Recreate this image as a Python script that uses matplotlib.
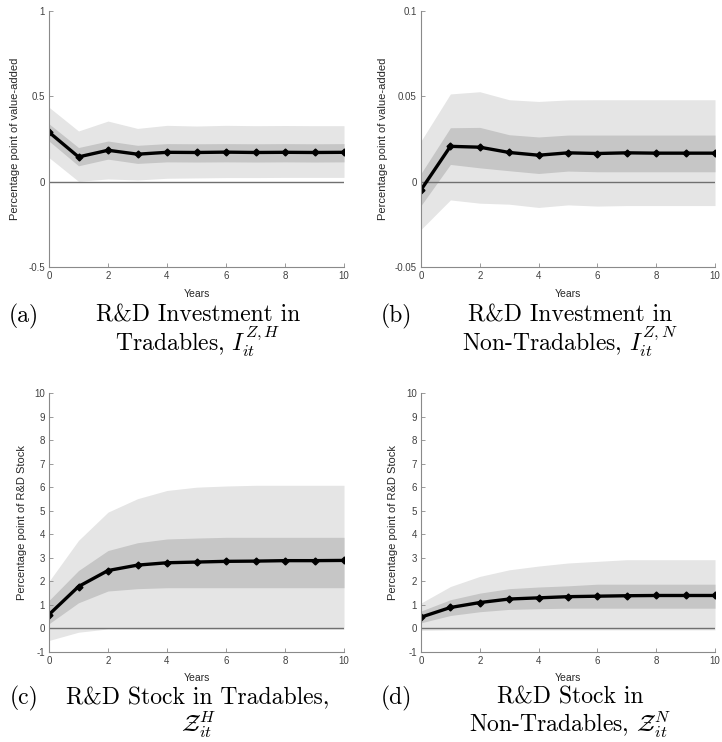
import numpy as np
import matplotlib
matplotlib.use("Agg")
import matplotlib.pyplot as plt

# =========================
# Data
# =========================
years = np.arange(0, 11)

# (a) R&D investment in tradables
inv_h = [0.29, 0.145, 0.184, 0.161, 0.172, 0.171, 0.173, 0.171, 0.172, 0.171, 0.172]
inv_h_68_lo = [0.238, 0.093, 0.132, 0.107, 0.116, 0.115, 0.116, 0.115, 0.116, 0.115, 0.116]
inv_h_68_hi = [0.339, 0.200, 0.238, 0.213, 0.223, 0.222, 0.223, 0.222, 0.223, 0.222, 0.223]
inv_h_90_lo = [0.141, 0.002, 0.016, 0.010, 0.020, 0.022, 0.024, 0.024, 0.025, 0.025, 0.025]
inv_h_90_hi = [0.436, 0.297, 0.355, 0.312, 0.330, 0.326, 0.330, 0.328, 0.329, 0.328, 0.328]

# (b) R&D investment in non-tradables
inv_n = [-0.0048, 0.0207, 0.0202, 0.0171, 0.0155, 0.0169, 0.0165, 0.0169, 0.0167, 0.0167, 0.0167]
inv_n_68_lo = [-0.014, 0.0101, 0.0081, 0.0064, 0.0048, 0.0062, 0.0058, 0.0058, 0.0058, 0.0058, 0.0058]
inv_n_68_hi = [0.0048, 0.0316, 0.0318, 0.0275, 0.0262, 0.0273, 0.0273, 0.0273, 0.0273, 0.0273, 0.0273]
inv_n_90_lo = [-0.028, -0.0107, -0.0126, -0.0132, -0.0151, -0.0136, -0.0143, -0.014, -0.014, -0.014, -0.014]
inv_n_90_hi = [0.0238, 0.0514, 0.0527, 0.048, 0.047, 0.0479, 0.048, 0.048, 0.048, 0.048, 0.048]

# (c) R&D stock in tradables
stk_h = [0.59, 1.78, 2.46, 2.69, 2.79, 2.82, 2.85, 2.86, 2.88, 2.88, 2.89]
stk_h_68_lo = [0.20, 1.09, 1.59, 1.69, 1.73, 1.73, 1.73, 1.73, 1.73, 1.73, 1.73]
stk_h_68_hi = [1.19, 2.46, 3.31, 3.64, 3.80, 3.84, 3.87, 3.87, 3.87, 3.87, 3.87]
stk_h_90_lo = [-0.51, -0.16, -0.02, -0.03, -0.03, -0.03, -0.03, -0.03, -0.03, -0.03, -0.03]
stk_h_90_hi = [2.0, 3.74, 4.94, 5.51, 5.86, 6.0, 6.05, 6.08, 6.08, 6.08, 6.08]

# (d) R&D stock in non-tradables
stk_n = [0.48, 0.89, 1.10, 1.25, 1.30, 1.35, 1.37, 1.39, 1.40, 1.40, 1.40]
stk_n_68_lo = [0.24, 0.55, 0.71, 0.81, 0.84, 0.86, 0.86, 0.86, 0.86, 0.86, 0.86]
stk_n_68_hi = [0.74, 1.22, 1.50, 1.69, 1.76, 1.81, 1.88, 1.88, 1.88, 1.88, 1.88]
stk_n_90_lo = [-0.08, -0.06, -0.06, -0.06, -0.06, -0.06, -0.06, -0.06, -0.06, -0.06, -0.06]
stk_n_90_hi = [1.08, 1.78, 2.21, 2.49, 2.65, 2.78, 2.85, 2.92, 2.92, 2.92, 2.92]

# =========================
# Style
# =========================
plt.rcParams["font.family"] = ["Liberation Sans", "DejaVu Sans"]
plt.rcParams["mathtext.fontset"] = "cm"
plt.rcParams["axes.unicode_minus"] = False

W, H = 722, 742
fig = plt.figure(figsize=(W / 100, H / 100), dpi=100)


def px_axes(left, top, right, bottom):
    return fig.add_axes([left / W, 1 - bottom / H, (right - left) / W, (bottom - top) / H])


panels = [
    dict(box=(49, 11, 344, 267), y=inv_h, lo68=inv_h_68_lo, hi68=inv_h_68_hi, lo90=inv_h_90_lo, hi90=inv_h_90_hi,
         ylim=(-0.5, 1), yticks=[-0.5, 0, 0.5, 1], ylabel="Percentage point of value-added", ylx=-0.098, xly=-0.084),
    dict(box=(421, 11, 715, 267), y=inv_n, lo68=inv_n_68_lo, hi68=inv_n_68_hi, lo90=inv_n_90_lo, hi90=inv_n_90_hi,
         ylim=(-0.05, 0.1), yticks=[-0.05, 0, 0.05, 0.1], ylabel="Percentage point of value-added", ylx=-0.112, xly=-0.084),
    dict(box=(49, 393, 344, 652), y=stk_h, lo68=stk_h_68_lo, hi68=stk_h_68_hi, lo90=stk_h_90_lo, hi90=stk_h_90_hi,
         ylim=(-1, 10), yticks=list(range(-1, 11)), ylabel="Percentage point of R&D Stock", ylx=-0.075, xly=-0.08),
    dict(box=(421, 393, 715, 652), y=stk_n, lo68=stk_n_68_lo, hi68=stk_n_68_hi, lo90=stk_n_90_lo, hi90=stk_n_90_hi,
         ylim=(-1, 10), yticks=list(range(-1, 11)), ylabel="Percentage point of R&D Stock", ylx=-0.078, xly=-0.08),
]

for p in panels:
    ax = px_axes(*p["box"])
    ax.fill_between(years, p["lo90"], p["hi90"], color="#e5e5e5", lw=0)
    ax.fill_between(years, p["lo68"], p["hi68"], color="#c6c6c6", lw=0)
    ax.axhline(0, color="#707070", lw=1.0)
    ax.plot(years, p["y"], color="black", lw=2.4, marker="D", ms=3.5)
    ax.set_xlim(0, 10)
    ax.set_ylim(*p["ylim"])
    ax.set_xticks(range(0, 11, 2))
    ax.set_yticks(p["yticks"])
    ax.set_yticklabels([f"{v:g}" for v in p["yticks"]])
    for s in ["top", "right"]:
        ax.spines[s].set_visible(False)
    for s in ["left", "bottom"]:
        ax.spines[s].set_color("#8a8a8a")
        ax.spines[s].set_linewidth(0.8)
    ax.tick_params(direction="in", length=3, width=0.6, color="#8a8a8a",
                   labelsize=7, labelcolor="#404040", pad=3)
    ax.set_ylabel(p["ylabel"], fontsize=8, color="#262626")
    ax.yaxis.set_label_coords(p["ylx"], 0.5)
    ax.set_xlabel("Years", fontsize=7.5, color="#262626")
    ax.xaxis.set_label_coords(0.5, p["xly"])

# =========================
# Captions (baseline positions in pixels)
# =========================
cap = dict(fontsize=17, family="cmr10", ha="center", va="baseline", color="black")


def fig_text(x, y, s):
    fig.text(x / W, 1 - y / H, s, **cap)


fig_text(24, 322, "(a)")
fig_text(198, 322, "R&D Investment in")
fig_text(198, 351, r"Tradables, $I_{it}^{Z,H}$")
fig_text(396, 322, "(b)")
fig_text(570, 322, "R&D Investment in")
fig_text(570, 351, r"Non-Tradables, $I_{it}^{Z,N}$")
fig_text(24, 704, "(c)")
fig_text(198, 704, "R&D Stock in Tradables,")
fig_text(198, 732, r"$\mathcal{Z}_{it}^{H}$")
fig_text(396, 704, "(d)")
fig_text(570, 704, "R&D Stock in")
fig_text(570, 732, r"Non-Tradables, $\mathcal{Z}_{it}^{N}$")

fig.savefig("out.png", dpi=100)
